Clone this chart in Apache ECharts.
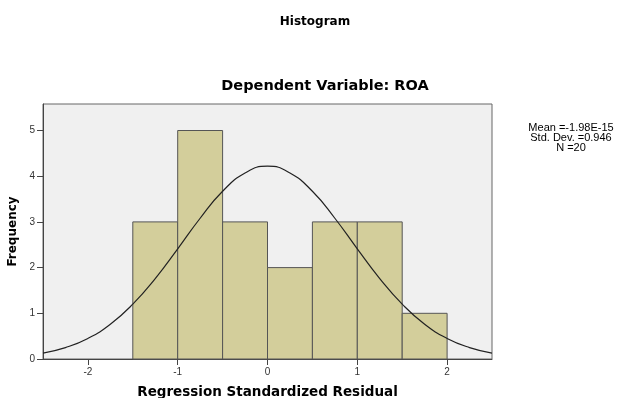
<!DOCTYPE html>
<html><head><meta charset="utf-8">
<script src="https://cdn.jsdelivr.net/npm/echarts@6/dist/echarts.min.js"></script>
<style>html,body{margin:0;padding:0;background:#fff}#c{width:618px;height:398px}</style>
</head><body><div id="c"></div>
<script>
const binStarts = [-1.5, -1.0, -0.5, 0.0, 0.5, 1.0, 1.5];
const binEnds   = [-1.0, -0.5, 0.0, 0.5, 1.0, 1.5, 2.0];
const counts    = [3, 5, 3, 2, 3, 3, 1];
const curveX = [-2.5,-2.25,-2,-1.75,-1.5,-1.25,-1,-0.75,-0.5,-0.25,0,0.25,0.5,0.75,1,1.25,1.5,1.75,2,2.25,2.5];
const curveY = [0.13,0.25,0.45,0.76,1.20,1.76,2.41,3.08,3.67,4.07,4.22,4.07,3.67,3.08,2.41,1.76,1.20,0.76,0.45,0.25,0.13];
const xTicks = [-2, -1, 0, 1, 2];
const yTicks = [0, 1, 2, 3, 4, 5];
const statsLines = ['Mean =-1.98E-15', 'Std. Dev. =0.946', 'N =20'];

const font = 'Liberation Sans, Arial, sans-serif';
const wide = 'DejaVu Sans, sans-serif';
const chart = echarts.init(document.getElementById('c'));
chart.setOption({
  animation: false,
  title: [
    {text: 'Histogram', left: 310, top: 11, textAlign: 'center',
     textStyle: {fontFamily: wide, fontSize: 12, fontWeight: 'bold', color: '#000'}},
    {text: 'Dependent Variable: ROA', left: 320, top: 74, textAlign: 'center',
     textStyle: {fontFamily: wide, fontSize: 14.5, fontWeight: 'bold', color: '#000'}},
    {text: statsLines.join('\n'), left: 566, top: 118, textAlign: 'center',
     textStyle: {fontFamily: font, fontSize: 11, fontWeight: 'normal', color: '#000', lineHeight: 10, align: 'center'}}
  ],
  grid: {left: 43, right: 126, top: 104, bottom: 39, outerBoundsMode: 'none', containLabel: false,
         show: true, backgroundColor: '#f0f0f0', borderColor: '#666', borderWidth: 1},
  xAxis: {
    type: 'value', min: -2.5, max: 2.5,
    name: 'Regression Standardized Residual', nameLocation: 'middle', nameGap: 26,
    nameTextStyle: {fontFamily: wide, fontSize: 13.5, fontWeight: 'bold', color: '#000'},
    axisLine: {show: true, onZero: false, lineStyle: {color: '#444', width: 1}},
    axisTick: {show: true, length: 6, lineStyle: {color: '#444'}, customValues: xTicks},
    axisLabel: {fontFamily: font, fontSize: 10, color: '#333', margin: 8, customValues: xTicks},
    splitLine: {show: false}
  },
  yAxis: {
    type: 'value', min: 0, max: 5.58,
    name: 'Frequency', nameLocation: 'middle', nameGap: 22, nameRotate: 90,
    nameTextStyle: {fontFamily: wide, fontSize: 12, fontWeight: 'bold', color: '#000'},
    axisLine: {show: true, onZero: false, lineStyle: {color: '#444', width: 1}},
    axisTick: {show: true, length: 6, lineStyle: {color: '#444'}, customValues: yTicks},
    axisLabel: {fontFamily: font, fontSize: 10, color: '#333', margin: 8, customValues: yTicks},
    splitLine: {show: false}
  },
  series: [
    {
      type: 'custom',
      data: counts.map((c, i) => [binStarts[i], binEnds[i], c]),
      encode: {x: [0, 1], y: 2},
      renderItem: function (params, api) {
        const p0 = api.coord([api.value(0), api.value(2)]);
        const p1 = api.coord([api.value(1), 0]);
        return {
          type: 'rect',
          shape: {x: p0[0], y: p0[1], width: p1[0] - p0[0], height: p1[1] - p0[1]},
          style: {fill: '#d3ce9b', stroke: '#555', lineWidth: 1}
        };
      },
      z: 2
    },
    {
      type: 'line',
      data: curveX.map((x, i) => [x, curveY[i]]),
      smooth: true, showSymbol: false,
      lineStyle: {color: '#222', width: 1.2},
      z: 3
    }
  ]
});
</script></body></html>
